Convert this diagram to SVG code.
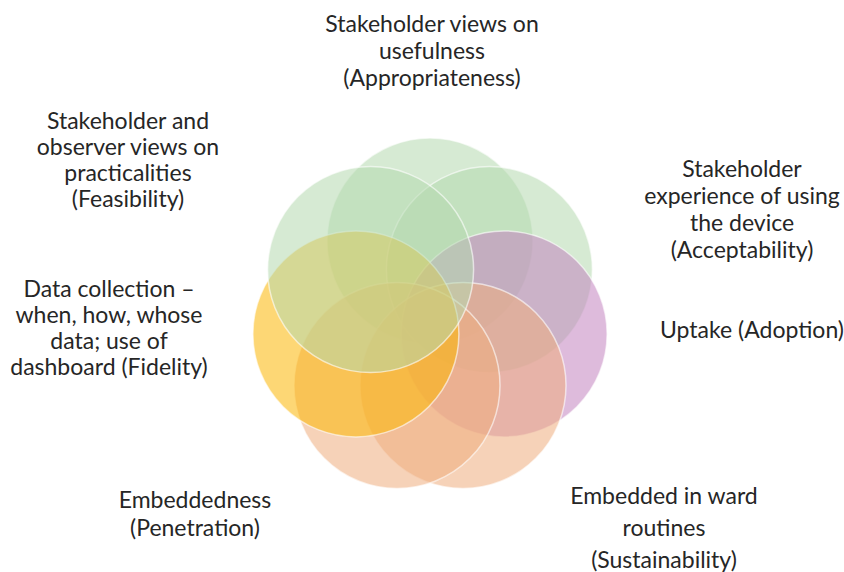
<svg xmlns="http://www.w3.org/2000/svg" width="844" height="572" viewBox="0 0 844 572">
  <style>
    .petal { stroke: #ffffff; stroke-opacity: 0.6; stroke-width: 1.5; fill-opacity: 0.55; }
    .green { fill: #b5d9af; }
    .purple { fill: #c383bf; }
    .peach { fill: #efad7e; }
    .gold { fill: #fbb604; }
    .label { font-family: Lato, "Open Sans", "Liberation Sans", sans-serif; font-size: 23px; fill: #262626; text-anchor: middle; }
  </style>
  <rect width="844" height="572" fill="#ffffff"/>

  <!-- seven petals, drawn clockwise from the top -->
  <g id="appropriateness"><circle class="petal green" cx="430" cy="241" r="103"/></g>
  <g id="acceptability"><circle class="petal green" cx="489.4" cy="269.6" r="103"/></g>
  <g id="adoption"><circle class="petal purple" cx="504.1" cy="333.9" r="103"/></g>
  <g id="sustainability"><circle class="petal peach" cx="463" cy="385.5" r="103"/></g>
  <g id="penetration"><circle class="petal peach" cx="397" cy="385.5" r="103"/></g>
  <g id="fidelity"><circle class="petal gold" cx="355.9" cy="333.9" r="103"/></g>
  <g id="feasibility"><circle class="petal green" cx="370.6" cy="269.6" r="103"/></g>

  <g id="connectors"/>

  <!-- labels -->
  <g id="label-appropriateness" class="label">
    <text x="432" y="32">Stakeholder views on</text>
    <text x="432" y="59">usefulness</text>
    <text x="432" y="86">(Appropriateness)</text>
  </g>
  <g id="label-feasibility" class="label">
    <text x="128" y="129">Stakeholder and</text>
    <text x="128" y="155">observer views on</text>
    <text x="128" y="181">practicalities</text>
    <text x="128" y="207">(Feasibility)</text>
  </g>
  <g id="label-acceptability" class="label">
    <text x="742" y="177">Stakeholder</text>
    <text x="742" y="204">experience of using</text>
    <text x="742" y="231">the device</text>
    <text x="742" y="258">(Acceptability)</text>
  </g>
  <g id="label-fidelity" class="label">
    <text x="109" y="297">Data collection –</text>
    <text x="109" y="323">when, how, whose</text>
    <text x="109" y="349">data; use of</text>
    <text x="109" y="375">dashboard (Fidelity)</text>
  </g>
  <g id="label-adoption" class="label">
    <text x="752" y="338">Uptake (Adoption)</text>
  </g>
  <g id="label-penetration" class="label">
    <text x="195" y="508">Embeddedness</text>
    <text x="195" y="536">(Penetration)</text>
  </g>
  <g id="label-sustainability" class="label">
    <text x="664" y="504">Embedded in ward</text>
    <text x="664" y="536">routines</text>
    <text x="664" y="568">(Sustainability)</text>
  </g>
</svg>
